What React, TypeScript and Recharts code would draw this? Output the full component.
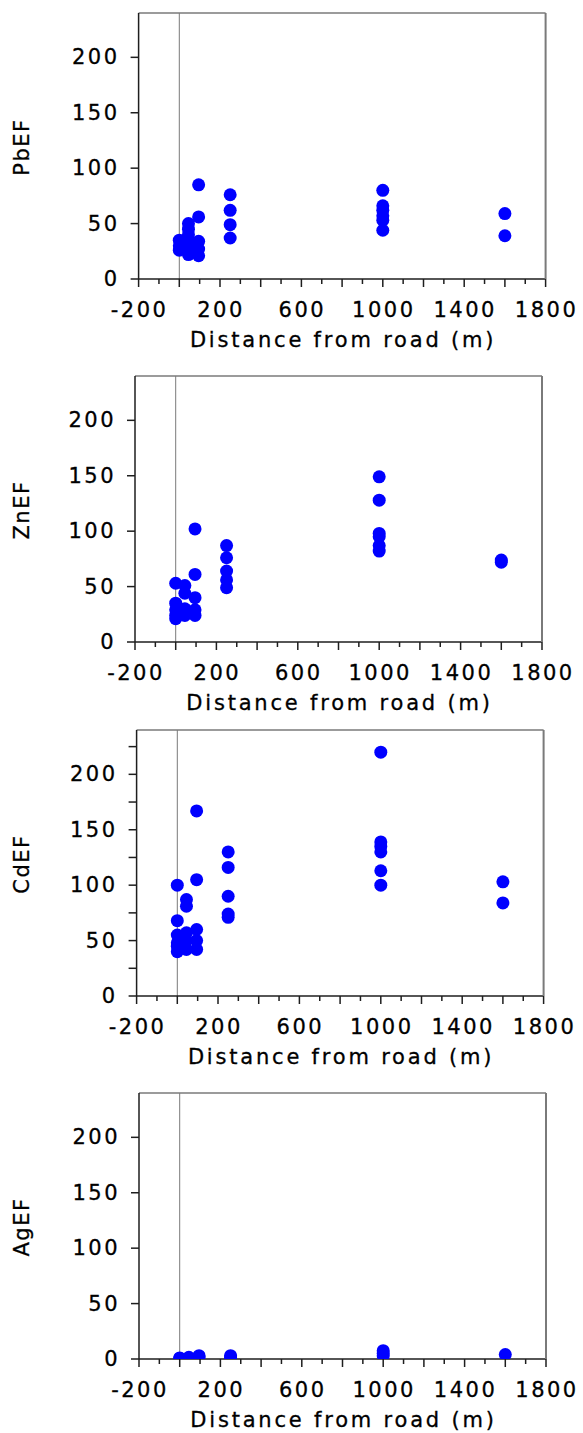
import { ReferenceLine, Scatter, ScatterChart, XAxis, YAxis } from "recharts";

const xTicks = [-200, -100, 0, 100, 200, 300, 400, 500, 600, 700, 800, 900, 1000, 1100, 1200, 1300, 1400, 1500, 1600, 1700, 1800];
const xLabelled = [-200, 200, 600, 1000, 1400, 1800];
const yTicks = [0, 50, 100, 150, 200];
const yTicksFine = [0, 25, 50, 75, 100, 125, 150, 175, 200, 225];

const pbDistance = [0, 0, 0, 45, 45, 45, 45, 45, 45, 45, 95, 95, 95, 95, 95, 250, 250, 250, 250, 1000, 1000, 1000, 1000, 1000, 1000, 1600, 1600];
const pbEF = [35, 30, 26, 50, 45, 40, 35, 30, 25, 22, 85, 56, 34, 27, 21, 76, 62, 49, 37, 80, 66, 62, 57, 53, 44, 59, 39];

const znDistance = [0, 0, 0, 0, 0, 45, 45, 45, 45, 95, 95, 95, 95, 95, 250, 250, 250, 250, 250, 1000, 1000, 1000, 1000, 1000, 1000, 1600, 1600];
const znEF = [53, 35, 29, 24, 21, 51, 44, 30, 24, 102, 61, 40, 29, 24, 87, 76, 64, 56, 49, 149, 128, 98, 95, 87, 82, 74, 72];

const cdDistance = [0, 0, 0, 0, 0, 0, 45, 45, 45, 45, 45, 95, 95, 95, 95, 95, 250, 250, 250, 250, 250, 1000, 1000, 1000, 1000, 1000, 1000, 1600, 1600];
const cdEF = [100, 68, 55, 48, 45, 40, 87, 81, 57, 50, 42, 167, 105, 60, 50, 42, 130, 116, 90, 74, 71, 220, 139, 135, 130, 113, 100, 103, 84];

const agDistance = [0, 0, 45, 95, 95, 250, 250, 1000, 1000, 1000, 1600];
const agEF = [1, 0.5, 1.5, 3, 2, 3, 1.5, 7.5, 5, 3, 4];

const FONT = "'DejaVu Sans', Verdana, sans-serif";
const DARK = "#1e1e1e";
const GREY = "#7a7a7a";
const PLOT_W = 407;

function BottomTick(props: any) {
  const { x, y, payload } = props;
  const v = payload.value;
  const major = v % 200 === 0;
  return (
    <g>
      <line x1={x} x2={x} y1={y} y2={y + (major ? 8 : 5)} stroke={DARK} strokeWidth={1.5} />
      {xLabelled.includes(v) ? (
        <text x={x + 1} y={y + 31} textAnchor="middle" dominantBaseline="central" fontFamily={FONT} fontSize={21} letterSpacing={2.5} fill="#000" stroke="#000" strokeWidth={0.3}>
          {v}
        </text>
      ) : null}
    </g>
  );
}

function TopTick(props: any) {
  const { x, y, payload } = props;
  const major = payload.value % 200 === 0;
  return <line x1={x} x2={x} y1={y} y2={y - (major ? 8 : 4)} stroke={DARK} strokeWidth={1.5} />;
}

function LeftTick(props: any) {
  const { x, y, payload } = props;
  const v = payload.value;
  return (
    <g>
      <line x1={x - 8} x2={x} y1={y} y2={y} stroke={DARK} strokeWidth={1.5} />
      {v % 50 === 0 ? (
        <text x={x - 19} y={y} textAnchor="end" dominantBaseline="central" fontFamily={FONT} fontSize={21} letterSpacing={2.5} fill="#000" stroke="#000" strokeWidth={0.3}>
          {v}
        </text>
      ) : null}
    </g>
  );
}

function RightTick(props: any) {
  const { x, y } = props;
  return <line x1={x} x2={x + 8} y1={y} y2={y} stroke={DARK} strokeWidth={1.5} />;
}

function Panel({
  name,
  xs,
  ys,
  top,
  plotLeft,
  fine = false,
}: {
  name: string;
  xs: number[];
  ys: number[];
  top: number;
  plotLeft: number;
  fine?: boolean;
}) {
  const data = xs.map((x, i) => ({ x, y: ys[i] }));
  return (
    <div style={{ position: "absolute", left: 0, top }}>
      <ScatterChart width={583} height={354} margin={{ top: 0, right: 0, bottom: 0, left: 0 }}>
        <XAxis
          xAxisId="t"
          orientation="top"
          type="number"
          domain={[-200, 1800]}
          ticks={xTicks}
          interval={0}
          height={13}
          tickSize={0}
          tickMargin={0}
          tick={<TopTick />}
          axisLine={{ stroke: GREY, strokeWidth: 1.5 }}
        />
        <XAxis
          xAxisId="b"
          type="number"
          dataKey="x"
          domain={[-200, 1800]}
          ticks={xTicks}
          interval={0}
          height={75}
          tickSize={0}
          tickMargin={0}
          tick={<BottomTick />}
          axisLine={{ stroke: DARK, strokeWidth: 1.5 }}
          label={(p: any) => {
            const vb = p.viewBox;
            return (
              <text x={vb.x + vb.width / 2 + 1} y={vb.y + 61} textAnchor="middle" dominantBaseline="central" fontFamily={FONT} fontSize={21} letterSpacing={2.8} fill="#000" stroke="#000" strokeWidth={0.3}>
                Distance from road (m)
              </text>
            );
          }}
        />
        <YAxis
          yAxisId="l"
          type="number"
          dataKey="y"
          domain={[0, 240]}
          allowDataOverflow
          ticks={fine ? yTicksFine : yTicks}
          interval={0}
          width={plotLeft}
          tickSize={0}
          tickMargin={0}
          tick={<LeftTick />}
          axisLine={{ stroke: DARK, strokeWidth: 1.5 }}
          label={(p: any) => {
            const vb = p.viewBox;
            const cy = vb.y + vb.height / 2 + 1;
            return (
              <text x={22} y={cy} transform={`rotate(-90, 22, ${cy})`} textAnchor="middle" dominantBaseline="central" fontFamily={FONT} fontSize={21} letterSpacing={1.5} fill="#000" stroke="#000" strokeWidth={0.3}>
                {name}
              </text>
            );
          }}
        />
        <YAxis
          yAxisId="r"
          orientation="right"
          type="number"
          domain={[0, 240]}
          ticks={yTicks}
          interval={0}
          width={583 - plotLeft - PLOT_W}
          tickSize={0}
          tickMargin={0}
          tick={<RightTick />}
          axisLine={{ stroke: GREY, strokeWidth: 2 }}
        />
        <ReferenceLine x={0} xAxisId="b" yAxisId="l" stroke={GREY} strokeWidth={1} />
        <Scatter
          xAxisId="b"
          yAxisId="l"
          data={data}
          isAnimationActive={false}
          shape={(p: any) => <circle cx={p.cx} cy={p.cy} r={6.5} fill="#0000ff" />}
        />
      </ScatterChart>
    </div>
  );
}

export default function App() {
  return (
    <div style={{ position: "absolute", left: 0, top: 0, width: 583, height: 1433, background: "#fff", overflow: "hidden" }}>
      <Panel name="PbEF" xs={pbDistance} ys={pbEF} top={-0.5} plotLeft={138.6} />
      <Panel name="ZnEF" xs={znDistance} ys={znEF} top={362.7} plotLeft={135} />
      <Panel name="CdEF" xs={cdDistance} ys={cdEF} top={716.7} plotLeft={136.6} fine />
      <Panel name="AgEF" xs={agDistance} ys={agEF} top={1080.3} plotLeft={139} />
    </div>
  );
}
